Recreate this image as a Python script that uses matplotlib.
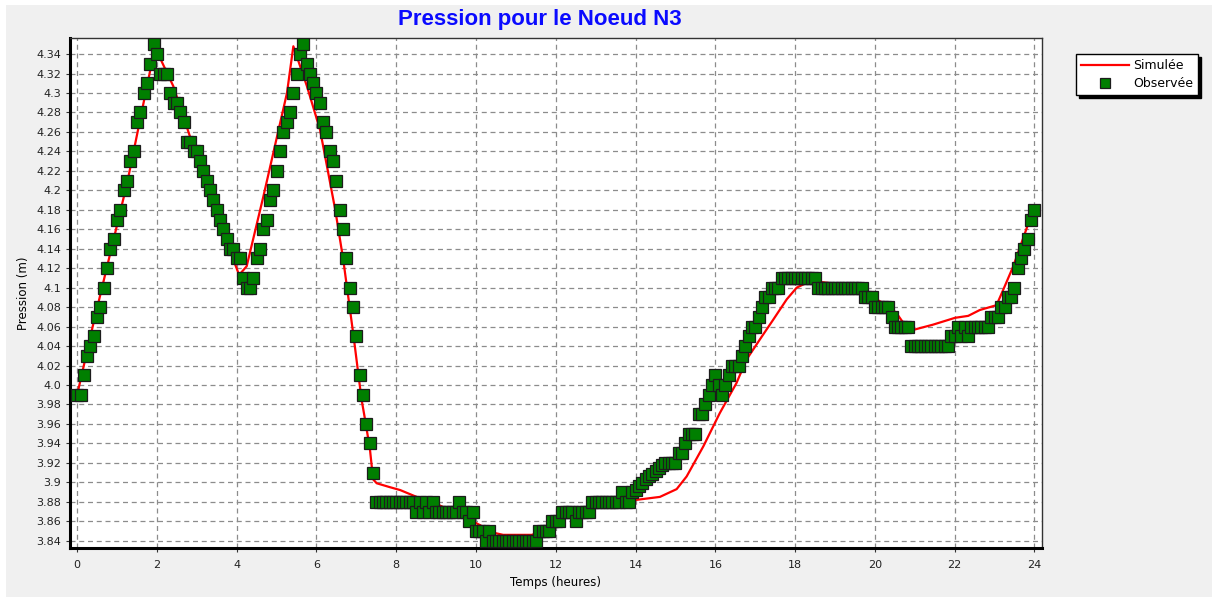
import numpy as np
import matplotlib
matplotlib.use('Agg')
import matplotlib.pyplot as plt
from matplotlib.patches import Rectangle

# Pression simulée (sommets de la courbe rouge)
temps_sim = [0.0, 0.4, 1.25, 1.95, 2.41, 2.83, 3.29, 3.75, 3.96, 4.06, 4.25, 4.67, 5.26, 5.42,
             5.76, 6.09, 6.47, 6.67, 6.93, 7.13, 7.22, 7.34, 7.42, 7.51, 7.84, 8.1, 8.51, 9.1,
             9.68, 10.1, 10.35, 10.68, 11.4, 11.52, 11.77, 12.02, 12.44, 12.94, 13.5, 14.03,
             14.61, 15.03, 15.28, 15.7, 16.11, 16.53, 16.78, 17.12, 17.45, 17.79, 18.04, 18.29,
             18.6, 19.0, 19.5, 19.8, 20.12, 20.38, 20.59, 20.71, 21.0, 21.46, 22.01, 22.34,
             22.63, 23.05, 23.22, 23.47, 23.84, 24.0]
pression_sim = [3.99, 4.062, 4.207, 4.347, 4.307, 4.255, 4.204, 4.153, 4.124, 4.113, 4.122,
                4.194, 4.30, 4.348, 4.307, 4.262, 4.18, 4.129, 4.05, 3.985, 3.964, 3.934, 3.903,
                3.899, 3.895, 3.892, 3.885, 3.876, 3.865, 3.856, 3.849, 3.846, 3.846, 3.848,
                3.853, 3.861, 3.867, 3.875, 3.879, 3.882, 3.885, 3.893, 3.906, 3.937, 3.971,
                4.002, 4.026, 4.047, 4.067, 4.088, 4.10, 4.105, 4.106, 4.104, 4.10, 4.095,
                4.086, 4.081, 4.071, 4.064, 4.057, 4.062, 4.069, 4.071, 4.077, 4.082, 4.098,
                4.122, 4.165, 4.18]

# Pression observée, un relevé toutes les 5 minutes (une ligne = une heure)
pression_obs = [
    3.99, 3.99, 4.01, 4.03, 4.04, 4.05, 4.07, 4.08, 4.10, 4.12, 4.14, 4.15,
    4.17, 4.18, 4.20, 4.21, 4.23, 4.24, 4.27, 4.28, 4.30, 4.31, 4.33, 4.35,
    4.34, 4.32, 4.32, 4.32, 4.30, 4.29, 4.29, 4.28, 4.27, 4.25, 4.25, 4.24,
    4.24, 4.23, 4.22, 4.21, 4.20, 4.19, 4.18, 4.17, 4.16, 4.15, 4.14, 4.14,
    4.13, 4.13, 4.11, 4.10, 4.10, 4.11, 4.13, 4.14, 4.16, 4.17, 4.19, 4.20,
    4.22, 4.24, 4.26, 4.27, 4.28, 4.30, 4.32, 4.34, 4.35, 4.33, 4.32, 4.31,
    4.30, 4.29, 4.27, 4.26, 4.24, 4.23, 4.21, 4.18, 4.16, 4.13, 4.10, 4.08,
    4.05, 4.01, 3.99, 3.96, 3.94, 3.91, 3.88, 3.88, 3.88, 3.88, 3.88, 3.88,
    3.88, 3.88, 3.88, 3.88, 3.88, 3.88, 3.87, 3.88, 3.87, 3.88, 3.87, 3.88,
    3.87, 3.87, 3.87, 3.87, 3.87, 3.87, 3.87, 3.88, 3.87, 3.87, 3.86, 3.87,
    3.85, 3.85, 3.85, 3.84, 3.85, 3.84, 3.84, 3.84, 3.84, 3.84, 3.84, 3.84,
    3.84, 3.84, 3.84, 3.84, 3.84, 3.84, 3.84, 3.85, 3.85, 3.85, 3.85, 3.86,
    3.86, 3.86, 3.87, 3.87, 3.87, 3.87, 3.86, 3.87, 3.87, 3.87, 3.87, 3.88,
    3.88, 3.88, 3.88, 3.88, 3.88, 3.88, 3.88, 3.88, 3.89, 3.88, 3.88, 3.89,
    3.892, 3.896, 3.899, 3.903, 3.906, 3.909, 3.912, 3.915, 3.918, 3.92, 3.92, 3.92,
    3.92, 3.93, 3.93, 3.94, 3.95, 3.95, 3.95, 3.97, 3.97, 3.98, 3.99, 4.00,
    4.01, 4.00, 3.99, 4.00, 4.01, 4.02, 4.02, 4.02, 4.03, 4.04, 4.05, 4.06,
    4.06, 4.07, 4.08, 4.09, 4.09, 4.10, 4.10, 4.10, 4.11, 4.11, 4.11, 4.11,
    4.11, 4.11, 4.11, 4.11, 4.11, 4.11, 4.11, 4.10, 4.10, 4.10, 4.10, 4.10,
    4.10, 4.10, 4.10, 4.10, 4.10, 4.10, 4.10, 4.10, 4.10, 4.09, 4.09, 4.09,
    4.08, 4.08, 4.08, 4.08, 4.08, 4.07, 4.06, 4.06, 4.06, 4.06, 4.06, 4.04,
    4.04, 4.04, 4.04, 4.04, 4.04, 4.04, 4.04, 4.04, 4.04, 4.04, 4.04, 4.05,
    4.05, 4.06, 4.05, 4.06, 4.05, 4.06, 4.06, 4.06, 4.06, 4.06, 4.06, 4.07,
    4.07, 4.07, 4.08, 4.08, 4.09, 4.09, 4.10, 4.12, 4.13, 4.14, 4.15, 4.17,
    4.18,
]
temps_obs = np.arange(len(pression_obs)) / 12.0

x_ticks = list(range(0, 25, 2))
y_ticks = [3.84, 3.86, 3.88, 3.90, 3.92, 3.94, 3.96, 3.98, 4.00, 4.02, 4.04, 4.06, 4.08,
           4.10, 4.12, 4.14, 4.16, 4.18, 4.20, 4.22, 4.24, 4.26, 4.28, 4.30, 4.32, 4.34]
y_labels = ['3.84', '3.86', '3.88', '3.9', '3.92', '3.94', '3.96', '3.98', '4.0', '4.02',
            '4.04', '4.06', '4.08', '4.1', '4.12', '4.14', '4.16', '4.18', '4.2', '4.22',
            '4.24', '4.26', '4.28', '4.3', '4.32', '4.34']

W, H = 1212, 597
fig = plt.figure(figsize=(W / 100, H / 100), dpi=100, facecolor='#f0f0f0')
# bordure blanche en haut et à gauche
fig.patches.append(Rectangle((0, 1 - 5 / H), 1, 5 / H, transform=fig.transFigure,
                             facecolor='white', edgecolor='none', zorder=-1))
fig.patches.append(Rectangle((0, 0), 6 / W, 1, transform=fig.transFigure,
                             facecolor='white', edgecolor='none', zorder=-1))

ax = fig.add_axes([70 / W, 1 - 548 / H, 972 / W, 510.5 / H])
ax.set_facecolor('white')

ax.plot(temps_sim, pression_sim, color='#ff0000', lw=1.6, label='Simulée', zorder=3)
ax.plot(temps_obs, pression_obs, ls='none', marker='s', markersize=8.4,
        markerfacecolor='#007f00', markeredgecolor='#1c1c1c', markeredgewidth=0.9,
        label='Observée', zorder=4)

ax.set_xlim(-0.18, 24.19)
ax.set_ylim(3.8325, 4.357)
ax.set_xticks(x_ticks)
ax.set_yticks(y_ticks)
ax.set_yticklabels(y_labels)
ax.tick_params(labelsize=8, length=3, width=0.8, colors='#333333', labelcolor='#222222')
ax.tick_params(axis='x', pad=6)
ax.grid(True, color='#8c8c8c', ls=(0, (4, 3)), lw=0.9)

for side in ['left', 'bottom']:
    ax.spines[side].set_linewidth(2.2)
    ax.spines[side].set_color('black')
for side in ['top', 'right']:
    ax.spines[side].set_linewidth(1.0)
    ax.spines[side].set_color('#333333')

ax.set_xlabel('Temps (heures)', fontsize=8.5, labelpad=4)
ax.set_ylabel('Pression (m)', fontsize=8.5, labelpad=4)

fig.text(540 / W, 1 - 19 / H, 'Pression pour le Noeud N3', ha='center', va='center',
         fontsize=16, fontweight='bold', color='#0a0aff', family='Liberation Sans')

leg = ax.legend(loc='upper left', bbox_to_anchor=(1076 / W, 1 - 54 / H),
                bbox_transform=fig.transFigure, fontsize=9, frameon=True, fancybox=False,
                shadow={'color': 'black', 'alpha': 1.0}, borderaxespad=0,
                handlelength=3.85, handletextpad=0.3, labelspacing=0.4, borderpad=0.4,
                markerscale=0.85)
leg.get_frame().set_edgecolor('black')
leg.get_frame().set_linewidth(1.0)

fig.savefig('out.png', dpi=100, facecolor=fig.get_facecolor())
